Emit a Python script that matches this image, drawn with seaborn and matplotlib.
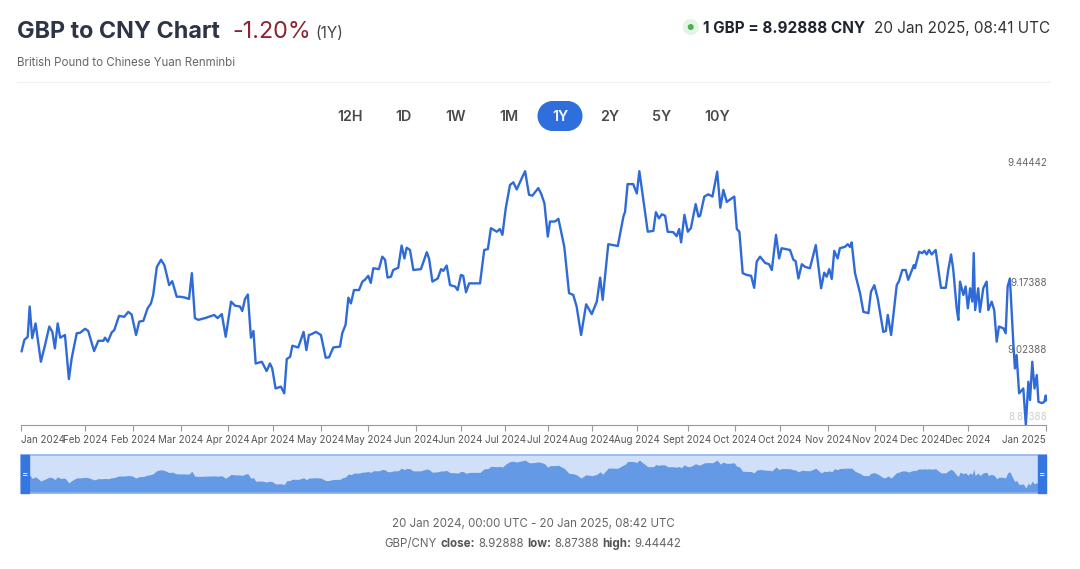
import numpy as np
import pandas as pd
import seaborn as sns
import matplotlib.pyplot as plt
import matplotlib.transforms as mtrans
from matplotlib.patches import Rectangle, Circle

# data (days since 20 Jan 2024, GBP/CNY rate)
start = pd.Timestamp("2024-01-20")
days = [0.2, 1.2, 2.4, 3.1, 4.0, 5.2, 7.1, 8.6, 10.1, 11.2, 12.1, 13.1, 14.0, 15.7, 17.1, 18.1,
        19.9, 21.1, 22.9, 24.0, 26.1, 27.6, 29.4, 30.0, 31.0, 32.4, 33.3, 35.0, 36.9, 38.3, 39.5,
        41.1, 42.2, 43.7, 45.2, 46.4, 47.2, 48.5, 50.0, 51.2, 52.9, 54.0, 55.6, 56.8, 58.6, 60.0,
        61.0, 62.1, 63.3, 65.7, 69.0, 70.2, 71.7, 73.1, 75.0, 76.4, 78.2, 79.0, 80.0, 81.0, 82.1,
        83.0, 83.8, 86.0, 87.7, 88.9, 89.7, 90.9, 92.8, 94.0, 94.9, 96.1, 96.9, 99.0, 100.9, 101.9,
        102.8, 103.8, 105.3, 107.1, 108.8, 110.0, 111.5, 113.9, 114.7, 115.9, 116.9, 117.8, 118.9,
        120.7, 121.9, 122.8, 124.0, 124.9, 125.8, 127.8, 129.0, 130.0, 130.9, 132.1, 132.9, 134.7,
        135.9, 136.9, 137.7, 138.9, 140.1, 142.8, 144.9, 145.7, 146.9, 148.8, 150.0, 150.8, 152.0,
        153.2, 155.0, 155.9, 157.1, 157.9, 158.9, 160.0, 163.9, 165.4, 166.7, 167.8, 169.9, 171.0,
        171.9, 173.1, 174.6, 175.8, 177.0, 178.8, 180.0, 181.4, 182.6, 184.7, 185.7, 186.9, 188.1,
        188.9, 190.7, 191.9, 194.0, 195.7, 197.2, 198.4, 200.0, 201.8, 203.8, 205.6, 206.8, 207.7,
        209.7, 213.1, 215.1, 215.7, 216.6, 218.6, 219.9, 220.8, 223.8, 225.8, 226.7, 227.8, 228.8,
        230.0, 230.9, 232.9, 234.1, 235.0, 235.7, 236.9, 238.1, 239.2, 240.9, 241.9, 242.5, 244.0,
        245.4, 246.9, 248.6, 249.7, 250.8, 252.0, 254.7, 255.6, 256.5, 257.7, 259.1, 260.7, 261.8,
        262.7, 263.9, 265.7, 267.1, 268.1, 269.6, 270.7, 271.6, 274.6, 275.8, 276.6, 277.6, 278.8,
        280.0, 281.7, 283.8, 285.7, 286.8, 287.7, 288.6, 289.5, 290.4, 291.6, 292.4, 294.2, 295.2,
        296.0, 296.6, 297.8, 299.6, 300.8, 302.6, 303.5, 304.7, 305.9, 307.9, 308.8, 309.5, 310.7,
        312.7, 313.5, 314.7, 315.9, 316.8, 318.8, 319.2, 320.7, 321.8, 322.6, 323.4, 324.2, 325.2,
        326.6, 328.5, 330.2, 331.1, 332.1, 332.9, 334.1, 334.7, 335.3, 336.5, 337.3, 338.1, 338.9,
        339.7, 340.2, 340.7, 341.8, 342.4, 343.6, 344.8, 345.4, 346.6, 347.5, 348.4, 349.2, 350.8,
        351.6, 352.3, 353.1, 353.5, 354.3, 354.9, 355.5, 356.4, 357.9, 358.8, 359.7, 360.3, 361.1,
        361.9, 362.7, 363.3, 364.5, 365.4, 365.9, 366.0]
rates = [9.039, 9.065, 9.072, 9.140, 9.069, 9.102, 9.016, 9.054, 9.095, 9.083, 9.046, 9.102, 9.070,
         9.076, 8.977, 9.024, 9.080, 9.081, 9.090, 9.085, 9.040, 9.063, 9.063, 9.070, 9.061, 9.082,
         9.087, 9.119, 9.117, 9.128, 9.122, 9.076, 9.106, 9.108, 9.136, 9.147, 9.166, 9.229, 9.245,
         9.233, 9.188, 9.197, 9.162, 9.162, 9.160, 9.157, 9.215, 9.114, 9.110, 9.114, 9.121, 9.114,
         9.123, 9.072, 9.151, 9.142, 9.140, 9.130, 9.157, 9.167, 9.070, 9.085, 9.012, 9.016, 8.995,
         9.012, 9.001, 8.956, 8.960, 8.945, 9.022, 9.027, 9.052, 9.048, 9.083, 9.042, 9.076, 9.078,
         9.083, 9.076, 9.025, 9.026, 9.048, 9.050, 9.080, 9.099, 9.160, 9.147, 9.177,
         9.177, 9.196, 9.200, 9.209, 9.193, 9.226, 9.224, 9.252, 9.245, 9.205, 9.207, 9.222, 9.227,
         9.277, 9.248, 9.272, 9.267, 9.222, 9.224, 9.262, 9.248, 9.196, 9.203, 9.224, 9.220, 9.232,
         9.188, 9.185, 9.177, 9.211, 9.209, 9.172, 9.192, 9.192, 9.267, 9.269, 9.316, 9.308, 9.314,
         9.301, 9.361, 9.413, 9.419, 9.403, 9.428, 9.444, 9.391, 9.389, 9.406, 9.394, 9.372, 9.297,
         9.331, 9.331, 9.337, 9.274, 9.170, 9.166, 9.140, 9.076, 9.145, 9.123, 9.151, 9.205, 9.155,
         9.280, 9.276, 9.342, 9.353, 9.415, 9.415, 9.394, 9.444, 9.308, 9.310, 9.352, 9.338, 9.347,
         9.344, 9.308, 9.307, 9.298, 9.314, 9.284, 9.346, 9.308, 9.316, 9.370, 9.342, 9.344, 9.387,
         9.392, 9.387, 9.443, 9.362, 9.402, 9.375, 9.387, 9.314, 9.308, 9.215, 9.211, 9.209, 9.182,
         9.241, 9.252, 9.238, 9.235, 9.222, 9.301, 9.248, 9.271, 9.267, 9.245, 9.242, 9.203, 9.235,
         9.229, 9.226, 9.278, 9.181, 9.216, 9.207, 9.224, 9.202, 9.265, 9.248, 9.271, 9.274, 9.280,
         9.274, 9.284, 9.215, 9.170, 9.128, 9.125, 9.173, 9.188, 9.158, 9.083, 9.085, 9.121, 9.076,
         9.188, 9.197, 9.222, 9.222, 9.200, 9.233, 9.226, 9.263, 9.260, 9.265, 9.257, 9.267, 9.257,
         9.267, 9.182, 9.182, 9.222, 9.257, 9.222, 9.136, 9.110, 9.196, 9.166, 9.185, 9.136, 9.181,
         9.151, 9.260, 9.132, 9.181, 9.128, 9.181, 9.196, 9.132, 9.151, 9.132, 9.061, 9.095, 9.091,
         9.080, 9.185, 9.203, 9.158, 9.061, 9.001, 9.031, 8.945, 8.956, 8.874, 8.971, 8.930, 9.016,
         8.956, 8.986, 8.926, 8.923, 8.926, 8.940, 8.929]

low, high, close = 8.87388, 9.44442, 8.92888
y_levels = [9.44442, 9.17388, 9.02388, 8.87388]

tick_dates = ["2024-01-20", "2024-02-12", "2024-02-29", "2024-03-17", "2024-04-03", "2024-04-19",
              "2024-05-06", "2024-05-23", "2024-06-09", "2024-06-25", "2024-07-11", "2024-07-26",
              "2024-08-11", "2024-08-27", "2024-09-14", "2024-10-01", "2024-10-17", "2024-11-03",
              "2024-11-20", "2024-12-07", "2024-12-23", "2025-01-20"]
tick_labels = ["Jan 2024", "Feb 2024", "Feb 2024", "Mar 2024", "Apr 2024", "Apr 2024", "May 2024",
               "May 2024", "Jun 2024", "Jun 2024", "Jul 2024", "Jul 2024", "Aug 2024", "Aug 2024",
               "Sept 2024", "Oct 2024", "Oct 2024", "Nov 2024", "Nov 2024", "Dec 2024", "Dec 2024",
               "Jan 2025"]
ranges = ["12H", "1D", "1W", "1M", "1Y", "2Y", "5Y", "10Y"]

LINE = "#2f6bd6"
BLUE = "#2f6fdd"

sns.set_theme(style="white")
plt.rcParams['font.family'] = ['Inter', 'DejaVu Sans']

W, H = 1080, 569
fig = plt.figure(figsize=(W / 100, H / 100), dpi=100)
fig.patch.set_facecolor("white")

# overlay in pixel coordinates for header / footer
ov = fig.add_axes([0, 0, 1, 1])
ov.set_xlim(0, W)
ov.set_ylim(H, 0)
ov.axis("off")
ov.set_zorder(-1)

df = pd.DataFrame({"date": start + pd.to_timedelta(days, unit="D"), "rate": rates})
x_end = start + pd.Timedelta(days=366)

# main chart
ax = fig.add_axes([21 / W, 1 - 425 / H, 1025 / W, 254 / H])
ax.set_facecolor("none")
sns.lineplot(data=df, x="date", y="rate", ax=ax, color=LINE, lw=1.7)
ax.lines[0].set_clip_on(False)
ax.set_xlim(start, x_end)
ax.set_ylim(low, high)
for s in ["top", "left", "right"]:
    ax.spines[s].set_visible(False)
ax.spines["bottom"].set_color("#9a9a9a")
ax.spines["bottom"].set_linewidth(0.8)
ax.set_yticks([])
ax.set_xlabel("")
ax.set_ylabel("")
ax.set_xticks(pd.to_datetime(tick_dates))
ax.set_xticklabels(tick_labels)
ax.tick_params(axis="x", bottom=True, length=4, width=0.8, color="#9a9a9a",
               labelsize=7, labelcolor="#555555", pad=3)
lbls = ax.get_xticklabels()
lbls[0].set_ha("left")
lbls[-1].set_ha("right")

trans = mtrans.blended_transform_factory(ax.transAxes, ax.transData)
trans = mtrans.offset_copy(trans, fig=fig, x=1, y=3, units="dots")
for i, v in enumerate(y_levels):
    col = "#cfcfcf" if i == len(y_levels) - 1 else "#666666"
    ax.text(1.0, v, f"{v:.5f}", transform=trans, ha="right", va="bottom",
            fontsize=7, color=col, zorder=1, clip_on=False)

# navigator
nav = fig.add_axes([21 / W, 1 - 493 / H, 1025 / W, 38 / H])
nav.set_facecolor("#cfe0f8")
rng = high - low
nav_lo = low - 0.18 * rng
nav.fill_between(df["date"], df["rate"], nav_lo, color="#6499e6", lw=0)
nav.set_xlim(start, x_end)
nav.set_ylim(nav_lo, high + 0.18 * rng)
nav.set_xticks([])
nav.set_yticks([])
for s in nav.spines.values():
    s.set_color("#8fb4ef")
    s.set_linewidth(1.2)
hw = 8 / 1025
for x0 in [0, 1 - hw]:
    nav.add_patch(Rectangle((x0, 0), hw, 1, transform=nav.transAxes, color="#3576e0",
                            zorder=5, clip_on=False))
    nav.text(x0 + hw / 2, 0.5, "=", transform=nav.transAxes, ha="center", va="center",
             color="white", fontsize=7, zorder=6)

renderer = fig.canvas.get_renderer()


def put_parts(x, y, parts, align="left"):
    items = []
    for s, kw, gap in parts:
        t = ov.text(0, y, s, va="baseline", ha="left", **kw)
        w = t.get_window_extent(renderer).width
        items.append((t, w, gap))
    total = sum(w + g for _, w, g in items) - items[-1][2]
    if align == "center":
        x0 = x - total / 2
    elif align == "right":
        x0 = x - total
    else:
        x0 = x
    cur = x0
    for t, w, g in items:
        t.set_x(cur)
        cur += w + g
    return x0


# header
put_parts(17, 38, [("GBP to CNY Chart", dict(fontsize=16.8, weight="bold", color="#2d3446"), 12),
                   ("-1.20%", dict(fontsize=16.8, color="#8a2433"), 5),
                   ("(1Y)", dict(fontsize=11, color="#444444"), 0)])
ov.text(17, 66, "British Pound to Chinese Yuan Renminbi", fontsize=8.3, color="#666666",
        va="baseline")
x0 = put_parts(1050, 33, [(f"1 GBP = {close:.5f} CNY", dict(fontsize=11, weight="bold",
                                                            color="#1f2330"), 9),
                          ("20 Jan 2025, 08:41 UTC", dict(fontsize=11, color="#333333"), 0)],
               align="right")
ov.add_patch(Circle((x0 - 12, 27), 8, color="#e4f4e4", lw=0))
ov.add_patch(Circle((x0 - 12, 27), 3, color="#4caf50", lw=0))
ov.plot([17, 1050], [82, 82], color="#f1f1f1", lw=0.8)

# range buttons
btn_x = [350, 404, 456, 509, 560, 610, 662, 717]
for lab, bx in zip(ranges, btn_x):
    col = "#4a4a4a"
    if lab == "1Y":
        ov.add_patch(Rectangle((bx - 7.5, 101), 15, 30, color=BLUE, lw=0))
        ov.add_patch(Circle((bx - 7.5, 116), 15, color=BLUE, lw=0))
        ov.add_patch(Circle((bx + 7.5, 116), 15, color=BLUE, lw=0))
        col = "white"
    ov.text(bx, 121, lab, ha="center", va="baseline", fontsize=10.3, weight="semibold",
            color=col)

# footer
put_parts(533, 527, [("20 Jan 2024, 00:00 UTC - 20 Jan 2025, 08:42 UTC",
                      dict(fontsize=8.3, color="#666666"), 0)], align="center")
reg = dict(fontsize=8.3, color="#666666")
bld = dict(fontsize=8.3, color="#555555", weight="bold")
put_parts(533, 547, [("GBP/CNY", reg, 3.3), ("close:", bld, 3.3), (f"{close:.5f}", reg, 3.3),
                     ("low:", bld, 3.3), (f"{low:.5f}", reg, 3.3), ("high:", bld, 3.3),
                     (f"{high:.5f}", reg, 0)], align="center")

fig.savefig("out.png", dpi=100, facecolor="white")
